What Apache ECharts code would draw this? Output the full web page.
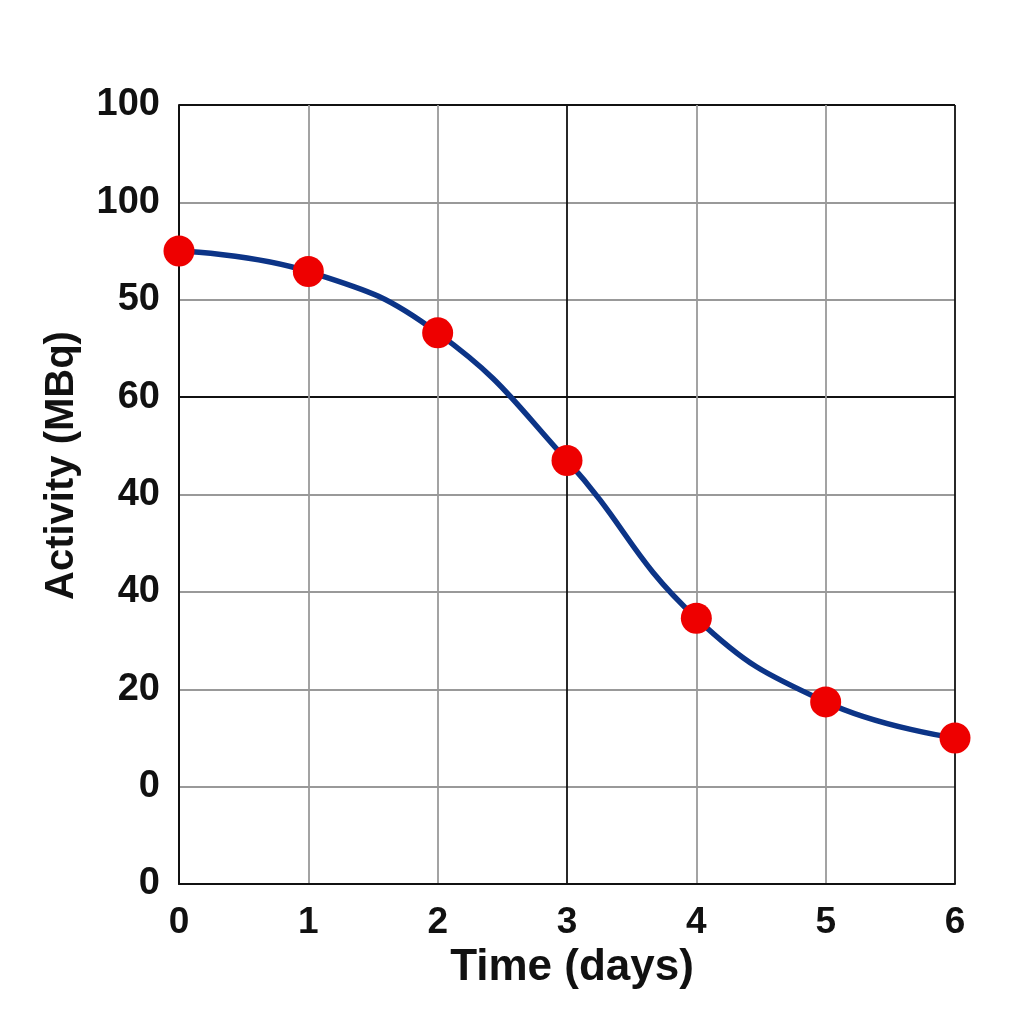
<!DOCTYPE html>
<html>
<head>
<meta charset="utf-8">
<script src="https://cdn.jsdelivr.net/npm/echarts@6/dist/echarts.min.js"></script>
<style>html,body{margin:0;padding:0;background:#fff}#c{width:1024px;height:1024px}</style>
</head>
<body>
<div id="c"></div>
<script>
const days = [0, 1, 2, 3, 4, 5, 6];
const activity = [65.0, 62.9, 56.6, 43.5, 27.3, 18.7, 15.0];
const yTickLabels = ['0', '0', '20', '40', '40', '60', '50', '100', '100'];
const xTickLabels = ['0', '1', '2', '3', '4', '5', '6'];

const font = 'Liberation Sans, Arial, sans-serif';
const chart = echarts.init(document.getElementById('c'));
const ySplitColors = yTickLabels.map((_, i) => (i === 5 || i === 8) ? '#111' : '#999');
const xSplitColors = xTickLabels.map((_, i) => (i === 3 || i === 6) ? '#111' : '#999');

chart.setOption({
  backgroundColor: '#fff',
  animation: false,
  grid: { left: 179, right: 69, top: 105, bottom: 140, show: false },
  xAxis: {
    type: 'value', min: 0, max: 6, interval: 1,
    name: 'Time (days)', nameLocation: 'middle', nameGap: 52,
    nameTextStyle: { fontFamily: font, fontWeight: 'bold', fontSize: 44, color: '#111', padding: [0, 0, 0, 10] },
    axisLine: { show: true, lineStyle: { color: '#111', width: 2 } },
    axisTick: { show: false },
    axisLabel: { margin: 20, fontFamily: font, fontWeight: 'bold', fontSize: 37, color: '#111',
      formatter: v => xTickLabels[Math.round(v)] },
    splitLine: { show: true, lineStyle: { color: xSplitColors, width: 1.8 } }
  },
  yAxis: {
    type: 'value', min: 0, max: 80, interval: 10,
    name: 'Activity (MBq)', nameLocation: 'middle', nameGap: 97, nameRotate: 90,
    nameTextStyle: { fontFamily: font, fontWeight: 'bold', fontSize: 40, color: '#111', padding: [0, 0, 0, 58] },
    axisLine: { show: true, lineStyle: { color: '#111', width: 2 } },
    axisTick: { show: false },
    axisLabel: { margin: 19, fontFamily: font, fontWeight: 'bold', fontSize: 38, color: '#111',
      formatter: v => yTickLabels[Math.round(v / 10)] },
    splitLine: { show: true, lineStyle: { color: ySplitColors, width: 1.8 } }
  },
  series: [{
    type: 'line',
    data: days.map((d, i) => [d, activity[i]]),
    smooth: 0.45,
    symbol: 'circle', symbolSize: 31,
    lineStyle: { color: '#0c3487', width: 5.5 },
    itemStyle: { color: '#ee0000' },
    z: 3
  }]
});
</script>
</body>
</html>
